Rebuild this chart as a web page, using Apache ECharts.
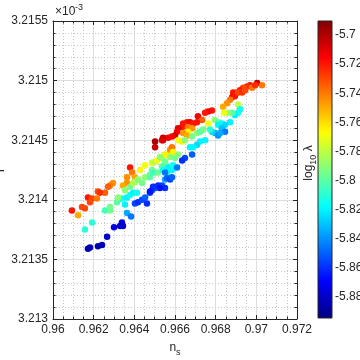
<!DOCTYPE html>
<html><head><meta charset="utf-8">
<script src="https://cdn.jsdelivr.net/npm/echarts@6/dist/echarts.min.js"></script>
<style>html,body{margin:0;padding:0;background:#fff}#c{width:360px;height:360px}</style>
</head><body><div id="c"></div>
<script>
const ns = [
0.96502,0.96541,0.96502,0.96379,0.96389,0.96364,0.96403,0.96428,0.96453,0.96487,
0.96502,0.96536,0.96561,0.96576,0.96453,0.96477,0.96502,0.96517,0.96541,0.96566,
0.96561,0.96585,0.96551,0.96576,0.96295,0.96280,0.96271,0.96221,0.96256,0.96231,
0.96172,0.96192,0.96216,0.96182,0.96093,0.96143,0.96157,0.96123,0.96256,0.96280,
0.96280,0.96364,0.96344,0.96354,0.96379,0.96394,0.96403,0.96418,0.96438,0.96320,
0.96339,0.96364,0.96379,0.96394,0.96413,0.96354,0.96364,0.96384,0.96403,0.96418,
0.96438,0.96453,0.96462,0.96477,0.96487,0.96502,0.96517,0.96536,0.96551,0.96339,
0.96330,0.96344,0.96300,0.96266,0.96241,0.96221,0.96182,0.96172,0.96192,0.96157,
0.96315,0.96320,
0.97004,0.97028,0.96969,0.96954,0.96935,0.96920,0.96905,0.96886,0.96881,0.96895,
0.96910,0.96930,0.96945,0.96979,0.96994,0.96871,0.96856,0.96836,0.96910,0.96920,
0.96910,0.96895,0.96881,0.96861,0.96841,0.96782,0.96763,0.96748,0.96713,0.96733,
0.96708,0.96763,0.96797,0.96812,0.96831,0.96812,0.96871,0.96846,0.96831,0.96846,
0.96797,0.96812,0.96822,0.96782,0.96772,0.96640,0.96659,0.96674,0.96689,0.96635,
0.96615,0.96610,0.96600,0.96585,0.96566,0.96541,0.96536,0.96664,0.96684,0.96664,
0.96640,0.96659,0.96615,0.96635,0.96649,0.96684,0.96708,0.96723,0.96738,0.96748,
0.96723,0.96708,0.96689,0.96674,0.96684,0.96649,0.96635,0.96576,0.96585,0.96590,
0.96551,0.96512,0.96526,0.96576,0.96600,0.96615,0.96551,0.96536,0.96541,0.96566,
0.96590,0.96610,0.96487,0.96492,0.96477,0.96551,0.96561,0.96576,0.96585,0.96517,
0.96526,0.96492,0.96477];
const r = [
3.21449,3.21450,3.21444,3.21427,3.21423,3.21419,3.21419,3.21425,3.21429,3.21431,
3.21432,3.21435,3.21438,3.21439,3.21419,3.21421,3.21423,3.21423,3.21427,3.21428,
3.21423,3.21425,3.21417,3.21418,3.21414,3.21412,3.21411,3.21407,3.21406,3.21406,
3.21402,3.21401,3.21401,3.21398,3.21391,3.21394,3.21393,3.21387,3.21391,3.21394,
3.21391,3.21414,3.21412,3.21408,3.21411,3.21414,3.21415,3.21417,3.21414,3.21400,
3.21401,3.21402,3.21404,3.21406,3.21406,3.21396,3.21389,3.21386,3.21397,3.21398,
3.21400,3.21402,3.21397,3.21406,3.21408,3.21410,3.21411,3.21412,3.21410,3.21381,
3.21378,3.21378,3.21377,3.21369,3.21362,3.21361,3.21360,3.21359,3.21381,3.21375,
3.21398,3.21402,
3.21498,3.21496,3.21496,3.21495,3.21494,3.21492,3.21490,3.21490,3.21486,3.21487,
3.21490,3.21490,3.21492,3.21494,3.21496,3.21484,3.21481,3.21478,3.21480,3.21476,
3.21473,3.21471,3.21473,3.21473,3.21473,3.21475,3.21474,3.21473,3.21470,3.21467,
3.21465,3.21464,3.21467,3.21465,3.21464,3.21463,3.21465,3.21463,3.21460,3.21457,
3.21456,3.21454,3.21456,3.21457,3.21459,3.21464,3.21465,3.21465,3.21464,3.21461,
3.21460,3.21457,3.21454,3.21453,3.21452,3.21452,3.21450,3.21461,3.21460,3.21457,
3.21456,3.21454,3.21450,3.21449,3.21450,3.21453,3.21456,3.21457,3.21459,3.21450,
3.21449,3.21446,3.21444,3.21444,3.21438,3.21435,3.21433,3.21442,3.21444,3.21440,
3.21438,3.21433,3.21436,3.21436,3.21435,3.21438,3.21432,3.21428,3.21425,3.21427,
3.21429,3.21427,3.21425,3.21423,3.21419,3.21423,3.21418,3.21417,3.21419,3.21412,
3.21410,3.21411,3.21407];
const logLambda = [
-5.70,-5.70,-5.705,-5.72,-5.74,-5.745,-5.75,-5.765,-5.77,-5.775,
-5.78,-5.78,-5.775,-5.77,-5.79,-5.795,-5.79,-5.795,-5.79,-5.795,
-5.815,-5.82,-5.835,-5.83,-5.745,-5.74,-5.735,-5.73,-5.735,-5.725,
-5.72,-5.73,-5.74,-5.73,-5.72,-5.73,-5.73,-5.75,-5.805,-5.795,
-5.795,-5.745,-5.75,-5.79,-5.795,-5.78,-5.785,-5.79,-5.795,-5.805,
-5.815,-5.82,-5.815,-5.82,-5.815,-5.82,-5.835,-5.845,-5.855,-5.86,
-5.855,-5.85,-5.86,-5.855,-5.85,-5.855,-5.85,-5.855,-5.86,-5.875,
-5.88,-5.88,-5.875,-5.88,-5.88,-5.885,-5.88,-5.885,-5.81,-5.81,
-5.80,-5.79,
-5.705,-5.74,-5.72,-5.725,-5.73,-5.72,-5.72,-5.72,-5.715,-5.72,
-5.73,-5.725,-5.73,-5.74,-5.725,-5.74,-5.745,-5.75,-5.78,-5.815,
-5.815,-5.82,-5.80,-5.79,-5.77,-5.72,-5.715,-5.72,-5.715,-5.735,
-5.72,-5.77,-5.79,-5.80,-5.815,-5.82,-5.82,-5.825,-5.83,-5.845,
-5.835,-5.84,-5.835,-5.825,-5.81,-5.72,-5.72,-5.715,-5.72,-5.72,
-5.71,-5.715,-5.705,-5.715,-5.715,-5.705,-5.71,-5.74,-5.745,-5.765,
-5.745,-5.75,-5.77,-5.765,-5.79,-5.795,-5.79,-5.80,-5.795,-5.82,
-5.82,-5.825,-5.82,-5.82,-5.85,-5.855,-5.86,-5.745,-5.74,-5.765,
-5.765,-5.77,-5.79,-5.79,-5.795,-5.79,-5.795,-5.80,-5.815,-5.82,
-5.815,-5.845,-5.795,-5.805,-5.80,-5.845,-5.85,-5.855,-5.85,-5.86,
-5.865,-5.86,-5.865];
const xTicks = [0.96,0.962,0.964,0.966,0.968,0.97,0.972];
const yTicks = [3.213,3.2135,3.214,3.2145,3.215,3.2155];
const cTicks = [-5.88,-5.86,-5.84,-5.82,-5.8,-5.78,-5.76,-5.74,-5.72,-5.7];
const cLimits = [-5.8944,-5.6904];

const axisCol = '#262626';
const font = 'Liberation Sans';
function jet(f){const c=v=>Math.round(255*Math.max(0,Math.min(1,v)));return 'rgb('+c(1.5-Math.abs(4*f-3))+','+c(1.5-Math.abs(4*f-2))+','+c(1.5-Math.abs(4*f-1))+')';}
const jetColors = Array.from({length:64},(_,i)=>jet(i/63));
const stops = jetColors.map((col,i)=>({offset:1-i/63,color:col})).reverse();

const chart = echarts.init(document.getElementById('c'), null, {renderer:'canvas'});
const boxAxis = (pos, isX) => ({
  gridIndex:0, type:'value', position:pos,
  min: isX ? xTicks[0] : yTicks[0], max: isX ? xTicks[xTicks.length-1] : yTicks[yTicks.length-1],
  interval: isX ? 0.002 : 0.0005,
  axisLine:{show:true,onZero:false,lineStyle:{color:axisCol,width:1}},
  axisTick:{show:true,inside:true,length:4,lineStyle:{color:axisCol}},
  minorTick:{show:true,splitNumber:isX?4:5,length:2.5,lineStyle:{color:axisCol}},
  axisLabel:{show:false}, splitLine:{show:false}, minorSplitLine:{show:false}
});
chart.setOption({
  animation:false,
  grid:[{left:53,top:21,width:244,height:298,outerBoundsMode:'none',containLabel:false},
        {left:318,top:21,width:14,height:297,outerBoundsMode:'none',containLabel:false}],
  xAxis:[
    {gridIndex:0,type:'value',min:xTicks[0],max:xTicks[xTicks.length-1],interval:0.002,position:'bottom',
     axisLine:{onZero:false,lineStyle:{color:axisCol,width:1}},
     axisTick:{inside:true,length:4,lineStyle:{color:axisCol}},
     minorTick:{show:true,splitNumber:4,length:2.5,lineStyle:{color:axisCol}},
     splitLine:{show:true,lineStyle:{color:'#dedede',width:1}},
     minorSplitLine:{show:true,lineStyle:{color:'#c8c8c8',width:1,type:[1,2]}},
     axisLabel:{color:axisCol,fontSize:12,fontFamily:font,margin:5,formatter:v=>String(+v.toFixed(3))},
     name:'{n|n}{s|s}',nameLocation:'middle',nameGap:20,nameMoveOverlap:false,
     nameTextStyle:{color:axisCol,fontFamily:font,rich:{n:{fontSize:12,fontFamily:font,color:axisCol,lineHeight:18,verticalAlign:'middle'},s:{fontSize:9,fontFamily:font,color:axisCol,lineHeight:9,verticalAlign:'bottom'}}}},
    boxAxis('top', true),
    {gridIndex:1,type:'category',data:['cb'],show:false}
  ],
  yAxis:[
    {gridIndex:0,type:'value',min:yTicks[0],max:yTicks[yTicks.length-1],interval:0.0005,position:'left',
     axisLine:{show:true,onZero:false,lineStyle:{color:axisCol,width:1}},
     axisTick:{show:true,inside:true,length:4,lineStyle:{color:axisCol}},
     minorTick:{show:true,splitNumber:5,length:2.5,lineStyle:{color:axisCol}},
     splitLine:{show:true,lineStyle:{color:'#dedede',width:1}},
     minorSplitLine:{show:true,lineStyle:{color:'#c8c8c8',width:1,type:[1,2]}},
     axisLabel:{color:axisCol,fontSize:12,fontFamily:font,margin:5,formatter:v=>String(+v.toFixed(4))},
     name:'r',nameLocation:'middle',nameGap:46,nameRotate:90,nameMoveOverlap:false,
     nameTextStyle:{color:axisCol,fontSize:12,fontFamily:font}},
    boxAxis('right', false),
    {gridIndex:1,type:'value',min:cLimits[0],max:cLimits[1],position:'right',
     axisLine:{show:false},splitLine:{show:false},
     axisTick:{show:true,inside:true,length:3,customValues:cTicks,lineStyle:{color:axisCol}},
     axisLabel:{show:true,customValues:cTicks,color:axisCol,fontSize:12,fontFamily:font,margin:3,formatter:v=>String(+v.toFixed(2))}}
  ],
  visualMap:{type:'continuous',show:false,seriesIndex:0,dimension:2,min:cLimits[0],max:cLimits[1],inRange:{color:jetColors}},
  graphic:[
    {type:'text',x:55,y:12,style:{text:'×10',fontSize:12,fontFamily:font,fill:axisCol,verticalAlign:'middle'}},
    {type:'text',x:75,y:8,style:{text:'-3',fontSize:9,fontFamily:font,fill:axisCol,verticalAlign:'middle'}},
    {type:'text',x:309,y:163,rotation:Math.PI/2,style:{text:'{a|log}{b|10}{a| λ}',fontSize:12,fontFamily:font,fill:axisCol,align:'center',verticalAlign:'middle',rich:{a:{fontSize:12,fontFamily:font,fill:axisCol,lineHeight:18,verticalAlign:'middle'},b:{fontSize:9,fontFamily:font,fill:axisCol,lineHeight:9,verticalAlign:'bottom'}}}}
  ],
  series:[
    {type:'scatter',xAxisIndex:0,yAxisIndex:0,symbolSize:6.5,itemStyle:{opacity:1},
     data:ns.map((x,i)=>[x,r[i],logLambda[i]])},
    {type:'custom',xAxisIndex:2,yAxisIndex:2,data:[[0,cLimits[0],cLimits[1]]],
     renderItem:(params,api)=>{
       const top=api.coord([api.value(0),api.value(2)]);
       const bot=api.coord([api.value(0),api.value(1)]);
       const w=api.size([1,0])[0];
       return {type:'rect',shape:{x:top[0]-w/2,y:top[1],width:w,height:bot[1]-top[1]},
         style:{fill:new echarts.graphic.LinearGradient(0,0,0,1,stops),stroke:axisCol,lineWidth:1}};
     }}
  ]
});
</script></body></html>
